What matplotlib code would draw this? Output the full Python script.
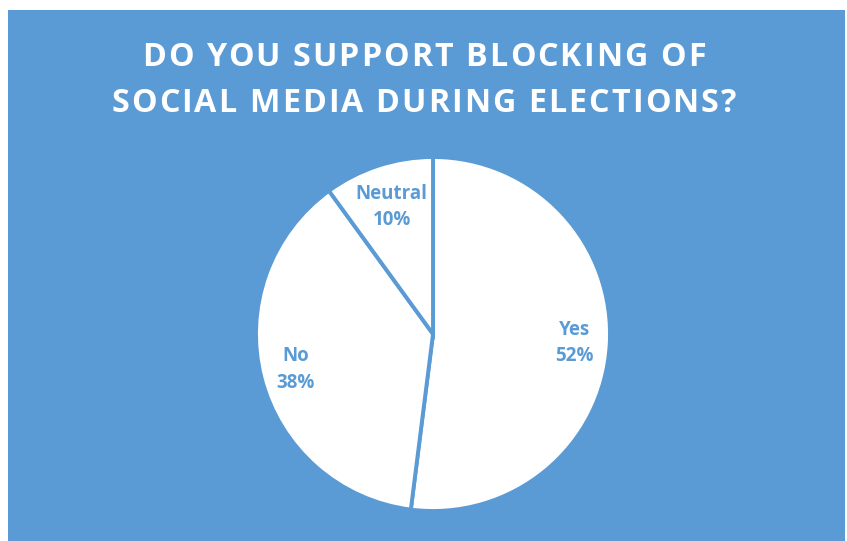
import numpy as np
import matplotlib
matplotlib.use("Agg")
import matplotlib.pyplot as plt
from matplotlib.patches import Rectangle
from matplotlib.font_manager import FontProperties

# data
categories = ["Yes", "No", "Neutral"]
shares = [52, 38, 10]
title_lines = ["DO YOU SUPPORT BLOCKING OF", "SOCIAL MEDIA DURING ELECTIONS?"]

blue = "#5B9BD5"
W, H = 847, 541

fig = plt.figure(figsize=(W / 100, H / 100), dpi=100, facecolor="white")

# blue chart area
fig.patches.append(Rectangle((8 / W, 0), (845 - 8) / W, (H - 10) / H,
                             transform=fig.transFigure, facecolor=blue,
                             edgecolor="none", zorder=-1))

cx, cy, r = 433, 334, 177
ax = fig.add_axes([(cx - r) / W, (H - cy - r) / H, 2 * r / W, 2 * r / H])
ax.set_facecolor("none")

labels = [f"{c}\n{s}%" for c, s in zip(categories, shares)]
wedges, texts = ax.pie(
    shares, labels=labels, startangle=90, counterclock=False,
    colors=["white"] * len(shares), labeldistance=0.8,
    wedgeprops=dict(edgecolor=blue, linewidth=2.8),
    textprops=dict(color=blue, fontsize=13.5, fontweight="bold",
                   family="Open Sans", linespacing=1.45,
                   ha="center", va="center"),
)
# small slice label sits a bit closer to the centre
w = wedges[2]
mid = np.deg2rad((w.theta1 + w.theta2) / 2)
texts[2].set_position((0.755 * np.cos(mid), 0.755 * np.sin(mid)))

ax.set_xlim(-1, 1)
ax.set_ylim(-1, 1)
ax.set_aspect("equal")

# title with letter spacing, drawn char by char
renderer = fig.canvas.get_renderer()
prop = FontProperties(family="Open Sans", weight="bold", size=23.2)
spacing = 2.1  # px between letters


def advance(s):
    if not s:
        return 0.0
    w1 = renderer.get_text_width_height_descent(s + "H", prop, ismath=False)[0]
    w2 = renderer.get_text_width_height_descent("H", prop, ismath=False)[0]
    return w1 - w2


for line, base in zip(title_lines, [66, 112]):
    total = advance(line) + spacing * (len(line) - 1)
    x0 = W / 2 - total / 2
    for i, ch in enumerate(line):
        if ch == " ":
            continue
        x = x0 + advance(line[:i]) + spacing * i
        fig.text(x / W, 1 - base / H, ch, ha="left", va="baseline",
                 color="white", fontproperties=prop)

fig.savefig("out.png", dpi=100, facecolor="white")
